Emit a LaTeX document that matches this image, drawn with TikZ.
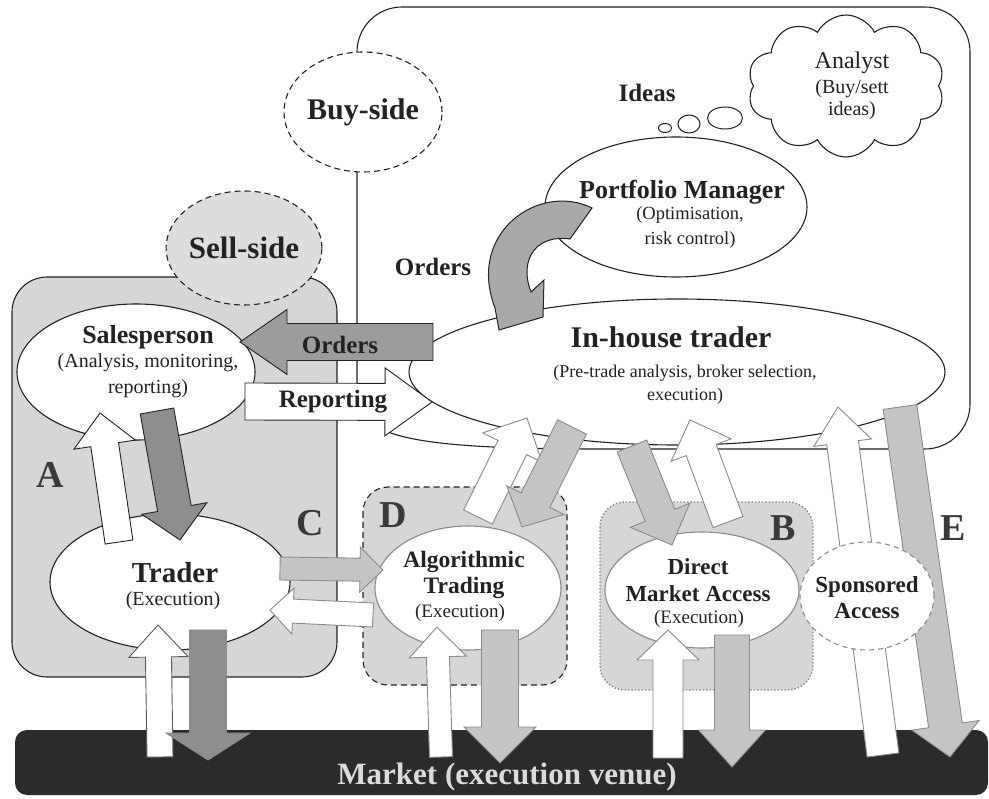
\documentclass[tikz,border=0pt]{standalone}
\usepackage{fontspec}
\setmainfont{Liberation Serif}
\usetikzlibrary{calc,shapes.geometric,shapes.symbols}

\definecolor{ink}{HTML}{222222}
\definecolor{panel}{HTML}{D6D6D6}
\definecolor{bubblefill}{HTML}{DDDDDD}
\definecolor{darkfill}{HTML}{8E8E8E}
\definecolor{ordfill}{HTML}{9C9C9C}
\definecolor{curvefill}{HTML}{A8A8A8}
\definecolor{lightfill}{HTML}{C4C4C4}
\definecolor{venue}{HTML}{2B2B2B}
\definecolor{soft}{HTML}{8A8A8A}
\definecolor{lettergrey}{HTML}{3A3A3A}

% block arrow: [style]{from}{to}{half shaft width}{half head width}{head length}
\newcommand\bkarrow[6][]{%
  \coordinate (bk-h) at ($(#3)!#6!(#2)$);
  \draw[#1] ($(#2)!#4!90:(#3)$) -- ($(bk-h)!#4!-90:(#2)$) -- ($(bk-h)!#5!-90:(#2)$)
    -- (#3) -- ($(bk-h)!#5!90:(#2)$) -- ($(bk-h)!#4!90:(#2)$) -- ($(#2)!#4!-90:(#3)$) -- cycle;}

\begin{document}
\begin{tikzpicture}[x=1pt,y=-1pt,
  every node/.style={text=ink},
  boxline/.style={draw=ink,line width=1.1pt},
  oval/.style={ellipse,draw=ink,line width=1.1pt,fill=white,inner sep=0pt},
  softoval/.style={ellipse,draw=soft,line width=1.1pt,fill=white,inner sep=0pt},
  title/.style={inner sep=0pt,font=\fontsize{26}{30}\selectfont\bfseries},
  sub/.style={inner sep=0pt,align=center,font=\fontsize{20}{25}\selectfont},
  letter/.style={inner sep=0pt,text=lettergrey,font=\fontsize{38}{40}\selectfont\bfseries},
  darkarrow/.style={fill=darkfill,draw=ink,line width=0.9pt,line join=miter},
  ordarrow/.style={fill=ordfill,draw=ink,line width=0.9pt},
  whitearrow/.style={fill=white,draw=ink,line width=0.9pt},
  greyarrow/.style={fill=lightfill,draw=soft,line width=0.9pt},
  paledark/.style={fill=darkfill,draw=soft,line width=0.9pt},
  palewhite/.style={fill=white,draw=soft,line width=0.9pt}]
\useasboundingbox (0,0) rectangle (989,799);

% buy-side frame (its lower left corner runs behind the reporting arrow)
\draw[boxline,rounded corners=45pt] (600,449) -- (970,449) -- (970,7) -- (357,7) -- (357,52);
\draw[boxline] (357,52) -- (357,405) -- (384,405) -- (388,432)
  .. controls (420,444) and (480,449) .. (600,449);

% sell-side panel and execution boxes
\draw[boxline,fill=panel,rounded corners=35pt] (12,277) rectangle (337,677);
\draw[boxline,fill=panel,dash pattern=on 6pt off 4pt,rounded corners=25pt] (363,487) rectangle (567,685);
\draw[draw=soft,fill=panel,line width=1.4pt,dotted,rounded corners=25pt] (600,502) rectangle (813,690);

% market bar
\node[fill=venue,rounded corners=12pt,minimum width=973pt,minimum height=65pt,inner sep=0pt] (market) at (501.5,762.5) {};
\node[inner sep=0pt,text=white!86!black,font=\fontsize{31}{36}\selectfont\bfseries] (market-t) at (507,777) {Market (execution venue)};

% participants
\node[oval,minimum width=238pt,minimum height=136pt] (sales) at (136,372) {};
\node[oval,minimum width=240pt,minimum height=136pt] (trader) at (170,582) {};
\node[oval,minimum width=536pt,minimum height=146pt] (inhouse) at (677,372) {};
\node[oval,minimum width=262pt,minimum height=140pt] (pm) at (676,207) {};
\node[softoval,minimum width=186pt,minimum height=124pt] (algo) at (468,588) {};
\node[softoval,minimum width=194pt,minimum height=116pt] (dma) at (702,590) {};
\node[cloud,draw=ink,line width=1.1pt,fill=white,cloud puffs=10,cloud puff arc=125,aspect=1.4,
  minimum width=197pt,minimum height=142pt,inner sep=0pt] (analyst) at (846,86) {};
\node[ellipse,draw=ink,line width=1pt,minimum width=13pt,minimum height=9pt,inner sep=0pt] (bub1) at (665,128) {};
\node[ellipse,draw=ink,line width=1pt,minimum width=22pt,minimum height=18pt,inner sep=0pt] (bub2) at (689,124) {};
\node[ellipse,draw=ink,line width=1pt,minimum width=35pt,minimum height=22pt,inner sep=0pt] (bub3) at (725,118) {};

% side labels
\node[ellipse,draw=ink,line width=1.1pt,dash pattern=on 6pt off 4pt,fill=white,minimum width=140pt,minimum height=120pt,inner sep=0pt,
  font=\fontsize{30}{36}\selectfont\bfseries] (buyside) at (363,112) {Buy-side};
\node[ellipse,draw=ink,line width=1.1pt,dash pattern=on 6pt off 4pt,fill=bubblefill,minimum width=142pt,minimum height=114pt,inner sep=0pt,
  font=\fontsize{31}{36}\selectfont\bfseries] (sellside) at (244,248) {Sell-side};

% texts
\node[title] (sales-t) at (148,337) {Salesperson};
\node[sub,font=\fontsize{20}{26}\selectfont] (sales-s) at (148,376) {(Analysis, monitoring,\\reporting)};
\node[title,font=\fontsize{29}{34}\selectfont\bfseries] (trader-t) at (175,573) {Trader};
\node[sub] (trader-s) at (173,601) {(Execution)};
\node[title,font=\fontsize{30}{36}\selectfont\bfseries] (inhouse-t) at (671,337) {In-house trader};
\node[sub,font=\fontsize{18}{23}\selectfont] (inhouse-s) at (685,385) {(Pre-trade analysis, broker selection,\\execution)};
\node[title] (pm-t) at (682,192) {Portfolio Manager};
\node[sub,font=\fontsize{18.5}{25}\selectfont] (pm-s) at (690,228) {(Optimisation,\\risk control)};
\node[title,align=center,font=\fontsize{23.5}{26}\selectfont\bfseries] (algo-t) at (464,575) {Algorithmic\\Trading};
\node[sub,font=\fontsize{19}{23}\selectfont] (algo-s) at (460,613) {(Execution)};
\node[title,align=center,font=\fontsize{23}{27}\selectfont\bfseries] (dma-t) at (698,580) {Direct\\Market Access};
\node[sub,font=\fontsize{19}{23}\selectfont] (dma-s) at (699,619) {(Execution)};
\node[inner sep=0pt,font=\fontsize{24}{28}\selectfont] (analyst-t) at (852,63) {Analyst};
\node[sub,font=\fontsize{20}{22}\selectfont] (analyst-s) at (852,100) {(Buy/sett\\ideas)};
\node[title,font=\fontsize{25}{30}\selectfont\bfseries] (ideas) at (647,93) {Ideas};
\node[title,font=\fontsize{25}{30}\selectfont\bfseries] (orders-l) at (433,267) {Orders};

% connector end points
\coordinate (ord-s) at (433,342);  \coordinate (ord-e) at (240,342);
\coordinate (rep-s) at (245,401.5);\coordinate (rep-e) at (432,402);
\coordinate (su-s) at (119,542);   \coordinate (su-e) at (100,413);
\coordinate (sd-s) at (157,411);   \coordinate (sd-e) at (180,540);
\coordinate (tu-s) at (160,757);   \coordinate (tu-e) at (158,625);
\coordinate (td-s) at (208,630);   \coordinate (td-e) at (208,760);
\coordinate (cr-s) at (280,568.5); \coordinate (cr-e) at (383,570);
\coordinate (cl-s) at (373,615);   \coordinate (cl-e) at (270,610);
\coordinate (au-s) at (441,757);   \coordinate (au-e) at (437,627);
\coordinate (ad-s) at (500,630);   \coordinate (ad-e) at (500,763);
\coordinate (ai-s) at (478,517);   \coordinate (ai-e) at (527,418);
\coordinate (ia-s) at (572,427);   \coordinate (ia-e) at (522,527);
\coordinate (id-s) at (632,446);   \coordinate (id-e) at (672,545);
\coordinate (di-s) at (728,522);   \coordinate (di-e) at (690,420);
\coordinate (du-s) at (668,758);   \coordinate (du-e) at (668,630);
\coordinate (dd-s) at (732,635);   \coordinate (dd-e) at (732,767);
\coordinate (sp-s) at (883,755);   \coordinate (sp-e) at (838,407);
\coordinate (ex-s) at (900,407);   \coordinate (ex-e) at (950,757);

% order flow arrows
\bkarrow[ordarrow]{ord-s}{ord-e}{18.5pt}{32.5pt}{47pt}
\node[title,font=\fontsize{25}{30}\selectfont\bfseries] (orders-t) at (340,345) {Orders};
\bkarrow[whitearrow]{rep-s}{rep-e}{18.5pt}{34pt}{47pt}
\node[title,font=\fontsize{25}{30}\selectfont\bfseries] (reporting-t) at (333,402) {Reporting};
\bkarrow[whitearrow]{su-s}{su-e}{14pt}{31pt}{32pt}
\bkarrow[darkarrow]{sd-s}{sd-e}{17pt}{33pt}{32pt}
\bkarrow[palewhite,draw=ink!75]{tu-s}{tu-e}{13pt}{29.5pt}{32pt}
\bkarrow[paledark]{td-s}{td-e}{18.5pt}{42pt}{27pt}
\bkarrow[greyarrow]{cr-s}{cr-e}{11.5pt}{22.5pt}{23pt}
\bkarrow[palewhite]{cl-s}{cl-e}{12pt}{23pt}{23pt}
\bkarrow[palewhite]{au-s}{au-e}{11.5pt}{28.5pt}{30pt}
\bkarrow[greyarrow]{ad-s}{ad-e}{18.5pt}{36pt}{36pt}
\bkarrow[palewhite]{ai-s}{ai-e}{16pt}{33pt}{33pt}
\bkarrow[greyarrow]{ia-s}{ia-e}{16pt}{32pt}{30pt}
\bkarrow[greyarrow]{id-s}{id-e}{16pt}{32pt}{32pt}
\bkarrow[palewhite]{di-s}{di-e}{16pt}{32pt}{32pt}
\bkarrow[palewhite]{du-s}{du-e}{15pt}{31pt}{30pt}
\bkarrow[greyarrow]{dd-s}{dd-e}{17.5pt}{33.5pt}{37pt}
\bkarrow[palewhite]{sp-s}{sp-e}{16pt}{29pt}{36pt}
\bkarrow[greyarrow]{ex-s}{ex-e}{17pt}{34pt}{32pt}

% curved order arrow from the portfolio manager to the in-house trader
\draw[fill=curvefill,draw=ink,line width=1pt,line join=miter]
  (592,208) .. controls (540,182) and (466,232) .. (495,308) -- (499,330) -- (543,317) -- (544,280)
  -- (531,292) .. controls (518,258) and (538,234) .. (570,239) -- cycle;

% sponsored access sits over its arrows
\node[ellipse,draw=soft,line width=1.1pt,dash pattern=on 5pt off 4pt,fill=white,minimum width=134pt,minimum height=108pt,inner sep=0pt] (sponsored) at (867,596) {};
\node[title,align=center,font=\fontsize{23}{26}\selectfont\bfseries] (sponsored-t) at (867,598) {Sponsored\\Access};

% route letters
\node[letter] (lab-a) at (50,475) {A};
\node[letter] (lab-b) at (783,528) {B};
\node[letter] (lab-c) at (310,523) {C};
\node[letter] (lab-d) at (393,515) {D};
\node[letter] (lab-e) at (953,528) {E};
\end{tikzpicture}
\end{document}
